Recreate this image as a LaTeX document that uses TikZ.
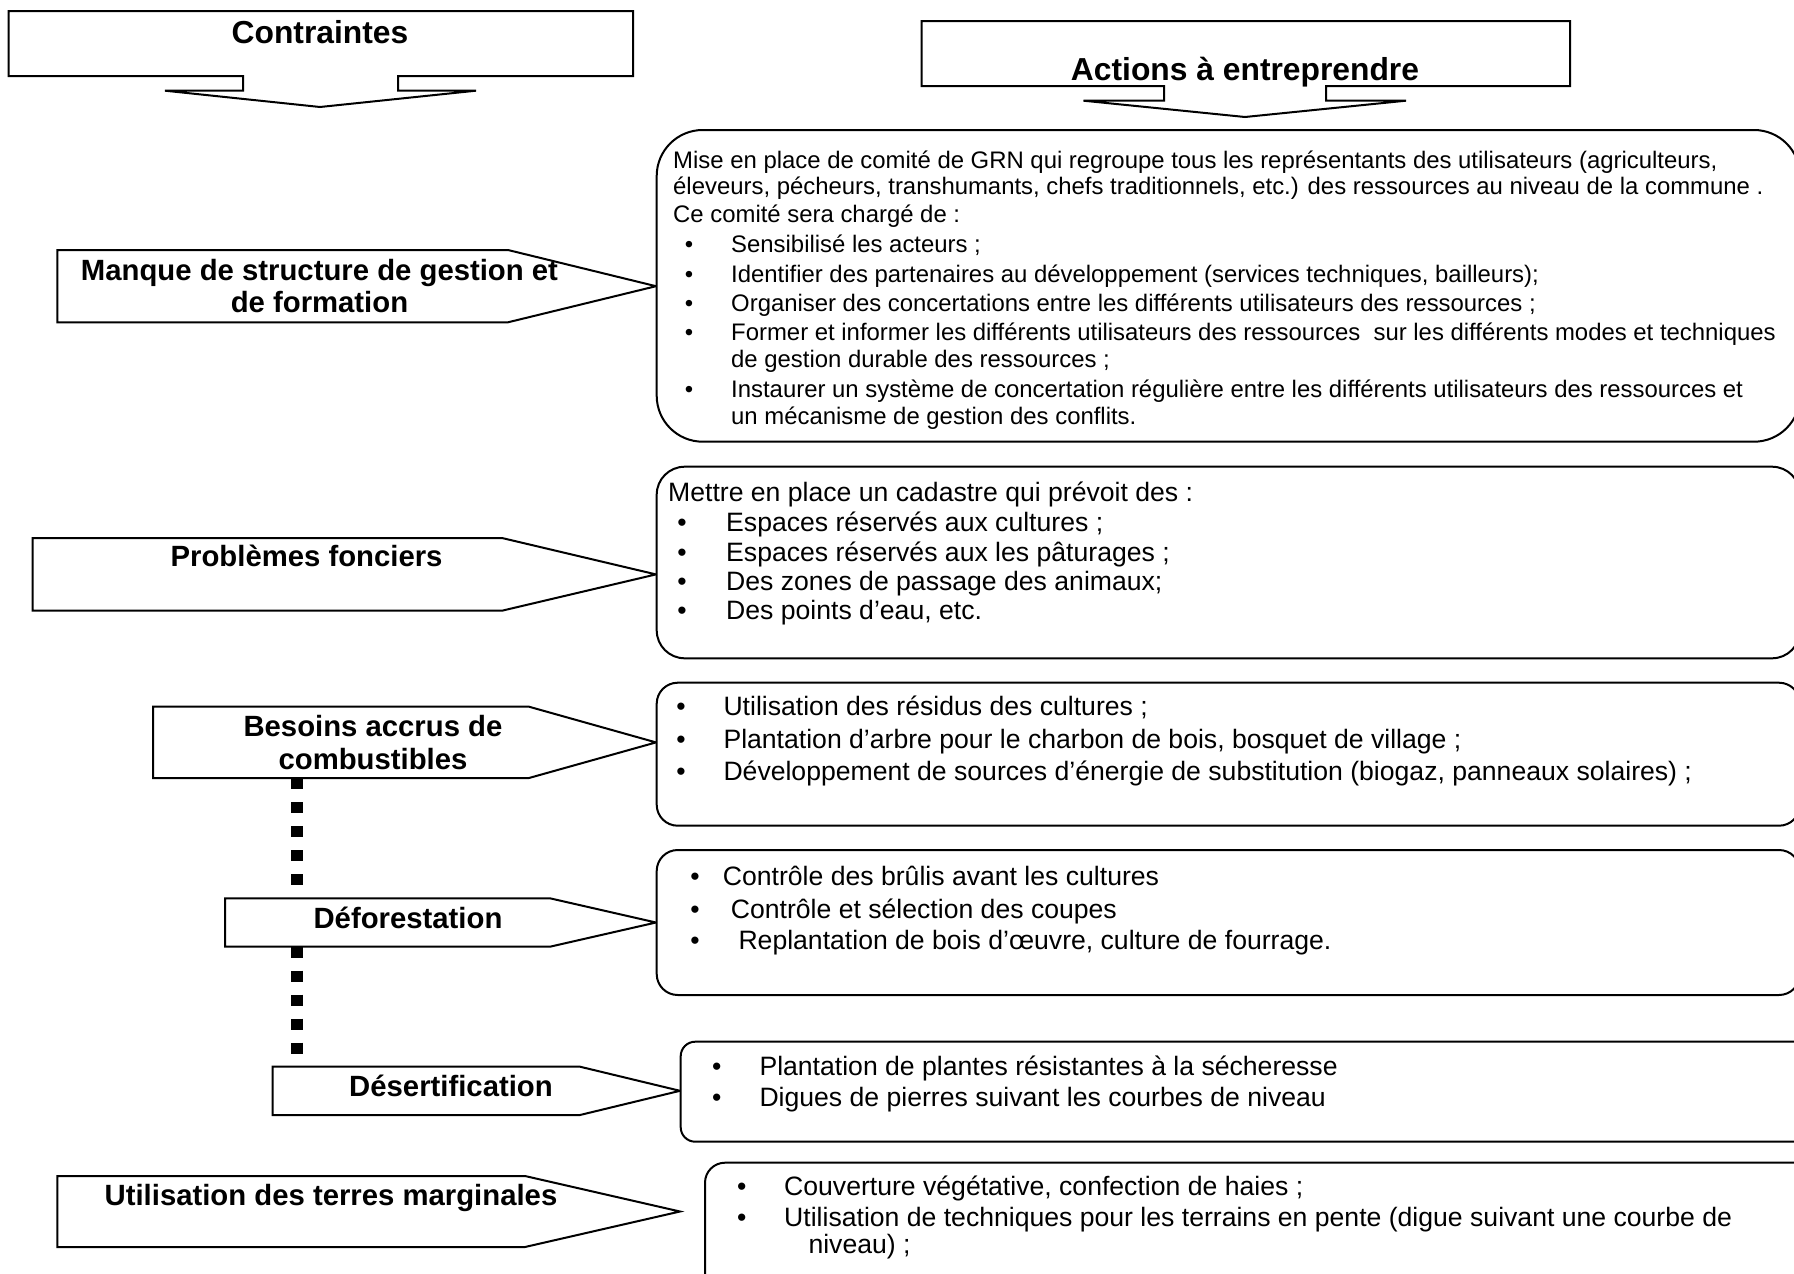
\documentclass[tikz,border=0pt]{standalone}
\usepackage{fontspec}
\setmainfont{Liberation Sans}
\begin{document}
\begin{tikzpicture}[x=1pt,y=-1pt,
  outl/.style={draw=black,line width=2pt,fill=white,line join=miter},
  ttl/.style={font=\fontsize{31.8}{36}\selectfont\bfseries,inner sep=0pt,anchor=base},
  lbl/.style={font=\fontsize{29.3}{33}\selectfont\bfseries,inner sep=0pt,anchor=base},
  txa/.style={font=\fontsize{23.9}{27}\selectfont,inner sep=0pt,anchor=base west},
  bula/.style={font=\fontsize{23.9}{27}\selectfont,inner sep=0pt,anchor=base},
  txb/.style={font=\fontsize{26.6}{30}\selectfont,inner sep=0pt,anchor=base west},
  bulb/.style={font=\fontsize{26.6}{30}\selectfont,inner sep=0pt,anchor=base},
  dots/.style={draw=black,line width=12pt,dash pattern=on 11pt off 13pt}]
\useasboundingbox (0,0) rectangle (1794,1274);
\clip (0,0) rectangle (1794,1274);
\fill[white] (0,0) rectangle (1794,1274);

% connector end points
\coordinate (c3s) at (297,778);
\coordinate (c4n) at (297,898.3);
\coordinate (c4s) at (297,946.7);
\coordinate (c5n) at (297,1066.7);
\draw[dots] (c3s) -- (c4n);
\draw[dots] (c4s) -- (c5n);

% title arrows
\draw[outl] (8.6,11) -- (633,11) -- (633,76) -- (398,76) -- (398,90.7) -- (476,90.7)
  -- (320,107) -- (165,90.7) -- (243,90.7) -- (243,76) -- (8.6,76) -- cycle;
\node[ttl] (t1) at (320,43) {Contraintes};
\draw[outl] (921.7,21) -- (1570,21) -- (1570,86) -- (1326,86) -- (1326,100.7) -- (1406,100.7)
  -- (1245,117) -- (1083.5,100.7) -- (1164,100.7) -- (1164,86) -- (921.7,86) -- cycle;
\node[ttl] (t2) at (1245,80) {Actions à entreprendre};

% left pentagon arrows
\draw[outl] (57.4,250) -- (508,250) -- (656,286.2) -- (508,322.3) -- (57.4,322.3) -- cycle;
\node[lbl] (l1a) at (319.5,280.5) {Manque de structure de gestion et};
\node[lbl] (l1b) at (319.5,312.5) {de formation};

\draw[outl] (32.7,538) -- (502,538) -- (656,574.4) -- (502,610.7) -- (32.7,610.7) -- cycle;
\node[lbl] (l2) at (306.6,566) {Problèmes fonciers};

\draw[outl] (153,706.7) -- (529,706.7) -- (656,742.4) -- (529,778) -- (153,778) -- cycle;
\node[lbl] (l3a) at (373,736) {Besoins accrus de};
\node[lbl] (l3b) at (373,769) {combustibles};

\draw[outl] (225,898.3) -- (550,898.3) -- (656,922.5) -- (550,946.7) -- (225,946.7) -- cycle;
\node[lbl] (l4) at (408,928) {Déforestation};

\draw[outl] (272.7,1066.7) -- (580,1066.7) -- (680,1090.8) -- (580,1115) -- (272.7,1115) -- cycle;
\node[lbl] (l5) at (451,1096) {Désertification};

\draw[outl] (57.4,1176) -- (525,1176) -- (680,1211.5) -- (525,1247) -- (57.4,1247) -- cycle;
\node[lbl] (l6) at (331,1205) {Utilisation des terres marginales};

% right rounded boxes
\draw[outl,rounded corners=46pt] (656.7,130) rectangle (1800,441.7);
\node[txa] (b1a) at (673,168) {Mise en place de comité de GRN qui regroupe tous les représentants des utilisateurs (agriculteurs,};
\node[txa] (b1b) at (673,194.5) {éleveurs, pécheurs, transhumants, chefs traditionnels, etc.) des ressources au niveau de la commune .};
\node[txa] (b1c) at (673,222.5) {Ce comité sera chargé de :};
\node[bula] (b1d0) at (689,252.5) {•};
\node[txa] (b1d) at (731,252.5) {Sensibilisé les acteurs ;};
\node[bula] (b1e0) at (689,282) {•};
\node[txa] (b1e) at (731,282) {Identifier des partenaires au développement (services techniques, bailleurs);};
\node[bula] (b1f0) at (689,311) {•};
\node[txa] (b1f) at (731,311) {Organiser des concertations entre les différents utilisateurs des ressources ;};
\node[bula] (b1g0) at (689,340) {•};
\node[txa] (b1g) at (731,340) {Former et informer les différents utilisateurs des ressources\ \ sur les différents modes et techniques};
\node[txa] (b1h) at (731,367) {de gestion durable des ressources ;};
\node[bula] (b1i0) at (689,397) {•};
\node[txa] (b1i) at (731,397) {Instaurer un système de concertation régulière entre les différents utilisateurs des ressources et};
\node[txa] (b1j) at (731,424) {un mécanisme de gestion des conflits.};

\draw[outl,rounded corners=28pt] (656.7,466.7) rectangle (1800,658.3);
\node[txb] (b2a) at (668,501.7) {Mettre en place un cadastre qui prévoit des :};
\node[bulb] (b2b0) at (682,531) {•};
\node[txb] (b2b) at (726,531) {Espaces réservés aux cultures ;};
\node[bulb] (b2c0) at (682,561) {•};
\node[txb] (b2c) at (726,561) {Espaces réservés aux les pâturages ;};
\node[bulb] (b2d0) at (682,590) {•};
\node[txb] (b2d) at (726,590) {Des zones de passage des animaux;};
\node[bulb] (b2e0) at (682,619) {•};
\node[txb] (b2e) at (726,619) {Des points d’eau, etc.};

\draw[outl,rounded corners=21pt] (656.7,682.7) rectangle (1800,825.7);
\node[bulb] (b3a0) at (681,715) {•};
\node[txb] (b3a) at (723.3,715) {Utilisation des résidus des cultures ;};
\node[bulb] (b3b0) at (681,748.3) {•};
\node[txb] (b3b) at (723.3,748.3) {Plantation d’arbre pour le charbon de bois, bosquet de village ;};
\node[bulb] (b3c0) at (681,780) {•};
\node[txb] (b3c) at (723.3,780) {Développement de sources d’énergie de substitution (biogaz, panneaux solaires) ;};

\draw[outl,rounded corners=21pt] (656.7,850) rectangle (1800,995);
\node[bulb] (b4a0) at (695,885) {•};
\node[txb] (b4a) at (722.7,885) {Contrôle des brûlis avant les cultures};
\node[bulb] (b4b0) at (695,918.3) {•};
\node[txb] (b4b) at (730.7,918.3) {Contrôle et sélection des coupes};
\node[bulb] (b4c0) at (695,949.3) {•};
\node[txb] (b4c) at (738.3,949.3) {Replantation de bois d’œuvre, culture de fourrage.};

\draw[outl,rounded corners=14.5pt] (680.7,1041.7) rectangle (1850,1141.7);
\node[bulb] (b5a0) at (716.7,1075) {•};
\node[txb] (b5a) at (759.3,1075) {Plantation de plantes résistantes à la sécheresse};
\node[bulb] (b5b0) at (716.7,1106.7) {•};
\node[txb] (b5b) at (759.3,1106.7) {Digues de pierres suivant les courbes de niveau};

\draw[outl,rounded corners=20pt] (705,1162.7) rectangle (1850,1300);
\node[bulb] (b6a0) at (741.7,1195) {•};
\node[txb] (b6a) at (784,1195) {Couverture végétative, confection de haies ;};
\node[bulb] (b6b0) at (741.7,1226.7) {•};
\node[txb] (b6b) at (784,1226.7) {Utilisation de techniques pour les terrains en pente (digue suivant une courbe de};
\node[txb] (b6c) at (808.3,1253.3) {niveau) ;};
\end{tikzpicture}
\end{document}
